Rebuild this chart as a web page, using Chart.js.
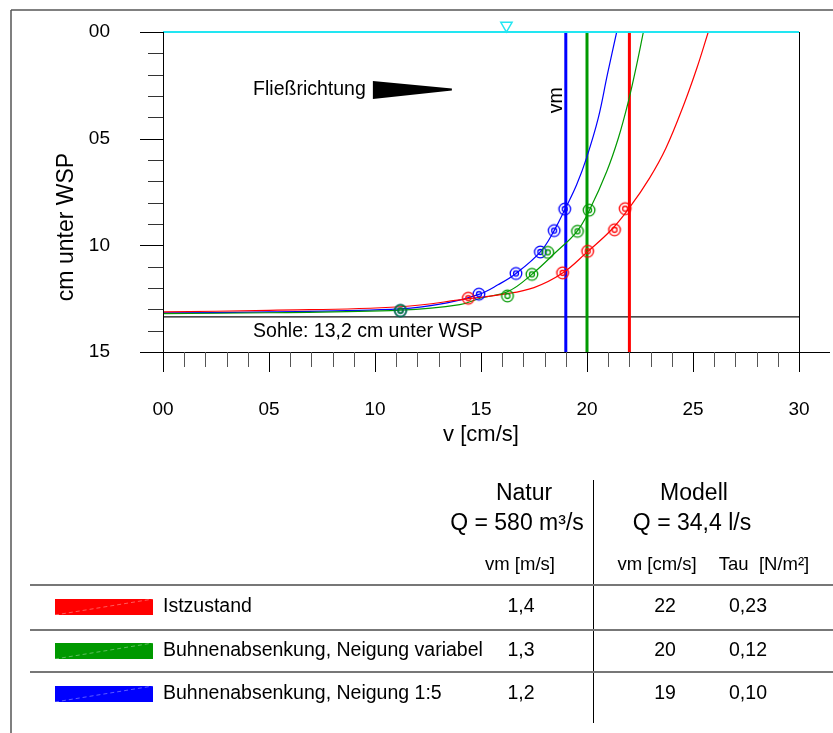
<!DOCTYPE html>
<html>
<head>
<meta charset="utf-8">
<script src="https://cdn.jsdelivr.net/npm/chart.js@4.4.0/dist/chart.umd.min.js"></script>
<style>
    body { margin: 0; background: #fff; }
    canvas { display: block; }
</style>
</head>
<body>
<canvas id="chartProfil" width="833" height="733"></canvas>
<script>
// Achsen
var xTickLabels = ['00', '05', '10', '15', '20', '25', '30'];
var yTickLabels = ['00', '05', '10', '15'];

// Varianten + Tabelle
var seriesNames = ['Istzustand', 'Buhnenabsenkung, Neigung variabel', 'Buhnenabsenkung, Neigung 1:5'];
var seriesColors = ['#ff0000', '#009900', '#0000ff'];
var vmNatur = ['1,4', '1,3', '1,2'];
var vmModell = [22, 20, 19];
var tauModell = ['0,23', '0,12', '0,10'];

// Messpunkte: v [cm/s] und Tiefe [cm unter WSP]
var istV = [21.8, 21.3, 20.03, 18.85, 14.4];
var istD = [8.28, 9.27, 10.28, 11.29, 12.48];
var varV = [20.1, 19.55, 18.15, 17.4, 16.25, 11.2];
var varD = [8.35, 9.34, 10.33, 11.36, 12.37, 13.06];
var n15V = [18.95, 18.45, 17.8, 16.65, 14.9, 11.2];
var n15D = [8.3, 9.31, 10.31, 11.32, 12.29, 13.06];

// Ausgleichskurven
var istCurveV = [0, 5, 11.2, 14.4, 16.0, 17.5, 18.85, 20.0, 21.15, 22.03, 22.95, 23.72, 24.56, 25.18, 25.72];
var istCurveD = [13.12, 13.05, 12.88, 12.5, 12.3, 11.98, 11.3, 10.32, 9.27, 8.2, 6.85, 5.45, 3.42, 1.7, 0];
var varCurveV = [0, 5, 11.2, 14.0, 15.0, 16.3, 17.4, 18.5, 19.53, 20.14, 20.93, 21.48, 21.95, 22.34, 22.66];
var varCurveD = [13.2, 13.16, 13.04, 12.78, 12.47, 12.15, 11.36, 10.35, 9.34, 8.3, 6.54, 4.97, 3.26, 1.55, 0];
var n15CurveV = [0, 5, 11.2, 13.4, 14.9, 15.8, 16.65, 17.8, 18.45, 18.98, 19.51, 19.98, 20.53, 20.96, 21.4];
var n15CurveD = [13.17, 13.12, 12.98, 12.7, 12.3, 11.85, 11.32, 10.31, 9.31, 8.27, 7.16, 5.9, 4.04, 2.0, 0];

var sohleDepth = 13.35;
var wspMarkV = 16.2;

function toPoints(vs, ds) {
    return vs.map(function (v, i) { return { x: v, y: ds[i] }; });
}

// Doppelkreis als Punktsymbol
function ringStyle(color) {
    var c = document.createElement('canvas');
    c.width = 16; c.height = 16;
    var g = c.getContext('2d');
    g.strokeStyle = color;
    g.lineWidth = 1.3;
    g.beginPath(); g.arc(8, 8, 5.8, 0, Math.PI * 2); g.stroke();
    g.beginPath(); g.arc(8, 8, 2.5, 0, Math.PI * 2); g.stroke();
    return c;
}

var measured = [[istV, istD], [varV, varD], [n15V, n15D]];
var curves = [[istCurveV, istCurveD], [varCurveV, varCurveD], [n15CurveV, n15CurveD]];

var datasets = [];
datasets.push({
    data: [{ x: 0, y: 0 }, { x: 30, y: 0 }],
    borderColor: '#22e6f2', borderWidth: 2, pointRadius: 0, clip: false, order: 0
});
datasets.push({
    data: [{ x: wspMarkV, y: -0.3 }],
    showLine: false, pointStyle: 'triangle', rotation: 180, pointRadius: 6.5,
    pointBorderColor: '#22e6f2', pointBackgroundColor: 'rgba(0,0,0,0)', pointBorderWidth: 1.5,
    clip: false, order: 0
});
for (var i = 0; i < 3; i++) {
    datasets.push({
        data: toPoints(measured[i][0], measured[i][1]),
        showLine: false, pointStyle: ringStyle(seriesColors[i]), pointRadius: 7, order: 1
    });
    datasets.push({
        data: toPoints(curves[i][0], curves[i][1]),
        borderColor: seriesColors[i], borderWidth: 1.2, pointRadius: 0,
        tension: 0.4, order: 2
    });
    datasets.push({
        data: [{ x: vmModell[i], y: 0 }, { x: vmModell[i], y: 15 }],
        borderColor: seriesColors[i], borderWidth: 3, pointRadius: 0, order: 3
    });
}
datasets.push({
    data: [{ x: 0, y: sohleDepth }, { x: 30, y: sohleDepth }],
    borderColor: '#111', borderWidth: 1.2, pointRadius: 0, order: 4
});

// Rahmen, Achsenstriche, Beschriftungen und Tabelle
var profilDeko = {
    id: 'profilDeko',
    afterDraw: function (chart) {
        var ctx = chart.ctx, a = chart.chartArea;
        var xs = chart.scales.x, ys = chart.scales.y;
        var px = function (v) { return xs.getPixelForValue(v); };
        var py = function (d) { return ys.getPixelForValue(d); };
        var font = "'Liberation Sans', Arial, sans-serif";
        ctx.save();

        // Blattrahmen
        ctx.strokeStyle = '#808080'; ctx.lineWidth = 2;
        ctx.beginPath(); ctx.moveTo(11, 10); ctx.lineTo(833, 10); ctx.stroke();
        ctx.strokeStyle = '#555'; ctx.lineWidth = 1.5;
        ctx.beginPath(); ctx.moveTo(11, 10); ctx.lineTo(11, 733); ctx.stroke();

        // Achsen
        ctx.strokeStyle = '#000'; ctx.lineWidth = 1;
        ctx.beginPath();
        ctx.moveTo(a.left + 0.5, a.top); ctx.lineTo(a.left + 0.5, a.bottom + 20);
        ctx.moveTo(a.right + 0.5, a.top); ctx.lineTo(a.right + 0.5, a.bottom + 20);
        ctx.moveTo(a.left - 23, a.bottom + 0.5); ctx.lineTo(a.right + 31, a.bottom + 0.5);
        ctx.stroke();
        for (var d = 0; d <= 15; d++) {
            var major = d % 5 === 0;
            ctx.strokeStyle = major ? '#000' : '#333';
            ctx.beginPath();
            ctx.moveTo(a.left - (major ? 23 : 15), Math.round(py(d)) + 0.5);
            ctx.lineTo(a.left, Math.round(py(d)) + 0.5);
            ctx.stroke();
        }
        for (var v = 0; v <= 30; v++) {
            var majorX = v % 5 === 0;
            ctx.strokeStyle = majorX ? '#000' : '#555';
            ctx.beginPath();
            ctx.moveTo(Math.round(px(v)) + 0.5, a.bottom);
            ctx.lineTo(Math.round(px(v)) + 0.5, a.bottom + (majorX ? 20 : 15));
            ctx.stroke();
        }

        ctx.fillStyle = '#000';
        // y-Achsentitel
        ctx.save();
        ctx.translate(67, 227);
        ctx.rotate(-Math.PI / 2);
        ctx.font = '23px ' + font;
        ctx.textAlign = 'center'; ctx.textBaseline = 'middle';
        ctx.fillText('cm unter WSP', 0, 0);
        ctx.restore();

        // Fließrichtung
        ctx.font = '19.5px ' + font;
        ctx.textAlign = 'left'; ctx.textBaseline = 'middle';
        ctx.fillText('Fließrichtung', px(4.25), py(2.72));
        var ax = px(9.9), ay = py(2.72);
        ctx.beginPath();
        ctx.moveTo(ax, ay - 9); ctx.lineTo(ax + 79, ay - 1.5);
        ctx.lineTo(ax + 79, ay + 0.5); ctx.lineTo(ax, ay + 9);
        ctx.closePath(); ctx.fill();

        ctx.fillText('Sohle: 13,2 cm unter WSP', px(4.25), py(14.05));

        // vm
        ctx.save();
        ctx.translate(px(18.55), py(3.2));
        ctx.rotate(-Math.PI / 2);
        ctx.textAlign = 'center';
        ctx.fillText('vm', 0, 0);
        ctx.restore();

        // Tabelle
        ctx.textAlign = 'center'; ctx.textBaseline = 'middle';
        ctx.font = '23px ' + font;
        ctx.fillText('Natur', 524, 494);
        ctx.fillText('Modell', 694, 494);
        ctx.fillText('Q = 580 m³/s', 517, 524);
        ctx.fillText('Q = 34,4 l/s', 692, 524);
        ctx.font = '18.5px ' + font;
        ctx.fillText('vm [m/s]', 520, 565);
        ctx.fillText('vm [cm/s]', 657, 565);
        ctx.fillText('Tau  [N/m²]', 764, 565);

        ctx.strokeStyle = '#000'; ctx.lineWidth = 1;
        ctx.beginPath(); ctx.moveTo(593.5, 480); ctx.lineTo(593.5, 723); ctx.stroke();
        ctx.strokeStyle = '#777'; ctx.lineWidth = 2;
        [585, 630, 672].forEach(function (ly) {
            ctx.beginPath(); ctx.moveTo(30, ly); ctx.lineTo(833, ly); ctx.stroke();
        });

        var rowY = [607, 651, 694];
        for (var r = 0; r < 3; r++) {
            var y = rowY[r];
            ctx.fillStyle = seriesColors[r];
            ctx.fillRect(55, y - 8, 98, 16);
            ctx.save();
            ctx.strokeStyle = 'rgba(255,255,255,0.45)'; ctx.lineWidth = 0.8;
            ctx.setLineDash([4, 3]);
            ctx.beginPath(); ctx.moveTo(55, y + 8); ctx.lineTo(153, y - 8); ctx.stroke();
            ctx.restore();
            ctx.fillStyle = '#000';
            ctx.font = '19.5px ' + font;
            ctx.textAlign = 'left';
            ctx.fillText(seriesNames[r], 163, y);
            ctx.textAlign = 'center';
            ctx.fillText(vmNatur[r], 521, y);
            ctx.fillText(String(vmModell[r]), 665, y);
            ctx.fillText(tauModell[r], 748, y);
        }
        ctx.restore();
    }
};

Chart.defaults.font.family = "'Liberation Sans', Arial, sans-serif";
Chart.defaults.color = '#000';

var ctxP = document.getElementById('chartProfil').getContext('2d');
var chartProfil = new Chart(ctxP, {
    type: 'line',
    data: { datasets: datasets },
    options: {
        responsive: false,
        animation: false,
        devicePixelRatio: 1,
        layout: { padding: { left: 0, right: 34, top: 32, bottom: 271 } },
        plugins: { legend: { display: false }, tooltip: { enabled: false } },
        scales: {
            x: {
                type: 'linear', min: 0, max: 30,
                // unsichtbare Tickstriche dienen nur als Abstand der Beschriftung
                grid: { display: true, drawOnChartArea: false, drawTicks: true, tickLength: 44, tickColor: 'rgba(0,0,0,0)' },
                border: { display: false },
                ticks: {
                    stepSize: 5, padding: 2, autoSkip: false, maxRotation: 0,
                    font: { size: 19 },
                    callback: function (v) { return xTickLabels[v / 5]; }
                },
                title: { display: true, text: 'v [cm/s]', font: { size: 22 }, padding: { top: 0, bottom: 14 } },
                afterFit: function (s) { s.height = 110; }
            },
            y: {
                type: 'linear', reverse: true, min: 0, max: 15,
                grid: { display: true, drawOnChartArea: false, drawTicks: true, tickLength: 51, tickColor: 'rgba(0,0,0,0)' },
                border: { display: false },
                ticks: {
                    stepSize: 5, padding: 2, autoSkip: false,
                    font: { size: 19 },
                    callback: function (v) { return yTickLabels[v / 5]; }
                },
                afterFit: function (s) { s.width = 163; }
            }
        }
    },
    plugins: [profilDeko]
});
</script>
</body>
</html>
